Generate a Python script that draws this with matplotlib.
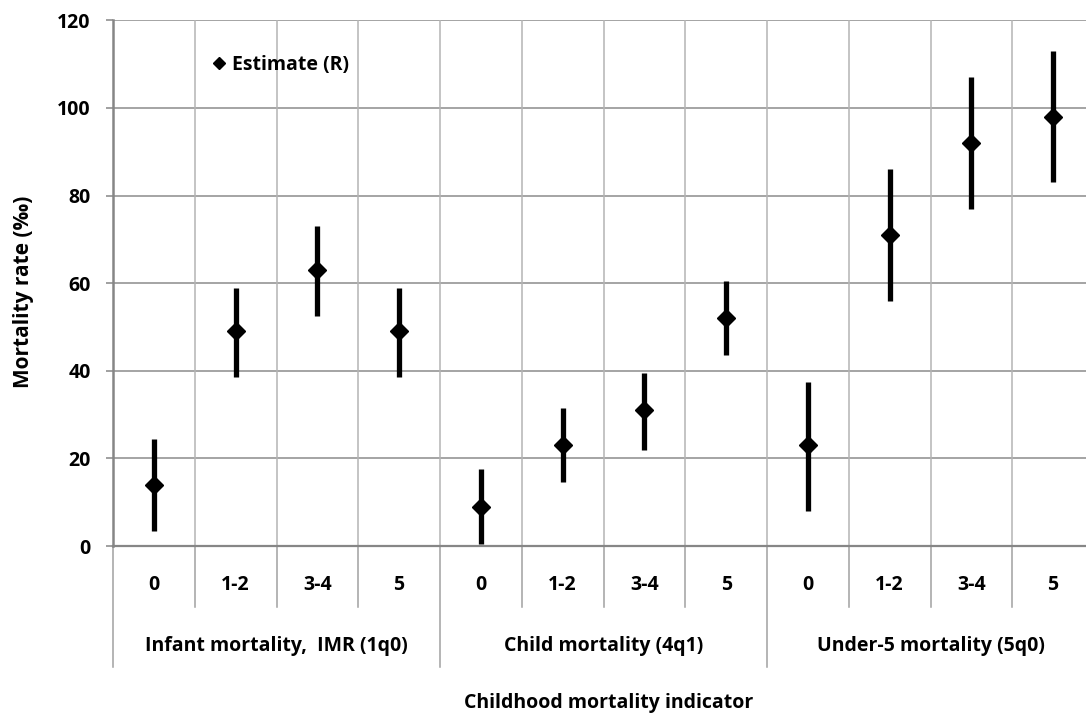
import numpy as np
import matplotlib.pyplot as plt
import matplotlib.transforms as mtransforms

plt.rcParams['font.family'] = ['Open Sans', 'DejaVu Sans']
plt.rcParams['font.weight'] = 'bold'

# datos
grupos = ['Infant mortality,  IMR (1q0)', 'Child mortality (4q1)', 'Under-5 mortality (5q0)']
cats = ['0', '1-2', '3-4', '5']
est = [14, 49, 63, 49, 9, 23, 31, 52, 23, 71, 92, 98]
low = [3.5, 38.5, 52.5, 38.5, 0.5, 14.5, 22, 43.5, 8, 56, 77, 83]
high = [24.5, 59, 73, 59, 17.5, 31.5, 39.5, 60.5, 37.5, 86, 107, 113]

W, H = 1086, 717
fs = 14
fig = plt.figure(figsize=(W/100, H/100), dpi=100)
# el area del grafico sigue mas alla del borde derecho (imagen recortada)
x0, x1, y0, y1 = 113, 1094, 546, 20.3
ax = fig.add_axes([x0/W, 1-y0/H, (W-x0)/W, (y0-y1)/H])

n = len(est)
x = np.arange(n)
est = np.array(est); low = np.array(low); high = np.array(high)
yerr = [est-low, high-est]

ax.errorbar(x, est, yerr=yerr, fmt='none', ecolor='black', elinewidth=3.8, capsize=0, zorder=3)
ax.plot(x, est, 'D', color='black', ms=9, label='Estimate (R)', zorder=4)

ax.set_xlim(-0.5, -0.5 + n*(W-x0)/(x1-x0))
ax.set_ylim(0, 120)
ax.set_yticks(np.arange(0, 121, 20))
ax.set_xticks([])
ax.yaxis.grid(True, color='#8c8c8c', lw=1.1)
for b in np.arange(0.5, n-0.5, 1):
    ax.axvline(b, color='#b4b4b4', lw=1.1, zorder=1)
ax.set_axisbelow(True)
for s in ['top', 'right']:
    ax.spines[s].set_visible(False)
ax.spines['left'].set_color('#868686')
ax.spines['left'].set_linewidth(1.8)
ax.spines['bottom'].set_color('#868686')
ax.spines['bottom'].set_linewidth(1.6)
ax.tick_params(axis='y', direction='out', length=5, width=1.1, color='#868686', pad=11, labelsize=fs)
for t in ax.get_yticklabels():
    t.set_fontweight('bold')

# eje de categorias de dos niveles
tr = mtransforms.blended_transform_factory(ax.transData, ax.transAxes)
ph = y0 - y1
def fy(py):
    return (y0 - py)/ph
for i in range(n):
    ax.text(i, fy(585), cats[i % 4], transform=tr, ha='center', va='center', fontsize=fs, fontweight='bold')
for b in np.arange(-0.5, n-1, 1):
    if int(b+0.5) % 4 == 0:
        ax.plot([b, b], [0, fy(667)], transform=tr, color='#a0a0a0', lw=1.1, clip_on=False)
    else:
        ax.plot([b, b], [0, fy(607)], transform=tr, color='#a0a0a0', lw=1.1, clip_on=False)
for g in range(3):
    ax.text(g*4+1.5, fy(646), grupos[g], transform=tr, ha='center', va='center', fontsize=fs, fontweight='bold')

fig.text(609/W, 1-703/H, 'Childhood mortality indicator', ha='center', va='center', fontsize=fs, fontweight='bold')
fig.text(24/W, 1-292/H, 'Mortality rate (‰)', ha='center', va='center', rotation=90, fontsize=15, fontweight='bold')

ax.legend(loc='center left', bbox_to_anchor=((211-x0)/(W-x0), fy(65)), frameon=False,
          handlelength=0.8, handletextpad=0.3, borderpad=0, borderaxespad=0, markerscale=0.7,
          prop={'size': fs, 'weight': 'bold'})

plt.savefig('out.png', dpi=100)
